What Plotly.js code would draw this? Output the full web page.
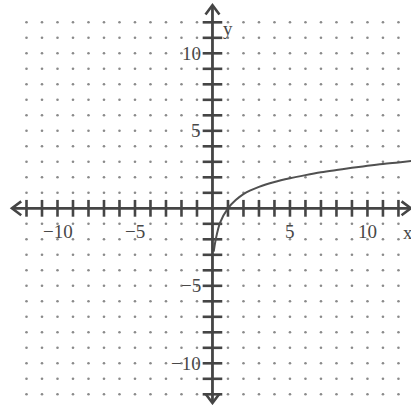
<!DOCTYPE html>
<html>
<head>
<meta charset="utf-8">
<script src="https://cdn.plot.ly/plotly-3.0.1.min.js"></script>
<style>html,body{margin:0;padding:0;background:#fff;}#chart{width:411px;height:405px;}</style>
</head>
<body>
<div id="chart"></div>
<script>
// Curve
const curveX = [0.08, 0.2, 0.5, 1, 1.5, 2, 3, 4, 5, 6, 7, 8, 9, 10, 11, 12, 12.85];
const curveY = [-2.8, -2.06, -0.9, 0, 0.53, 0.92, 1.38, 1.7, 1.94, 2.14, 2.32, 2.47, 2.61, 2.74, 2.86, 2.96, 3.05];
// Tick positions and labels
const tickVals = [-12,-11,-10,-9,-8,-7,-6,-5,-4,-3,-2,-1,1,2,3,4,5,6,7,8,9,10,11,12];
const xLabelVals = [-10, -5, 5, 10];
const xLabelText = ["\u221210", "\u22125", "5", "10"];
const yLabelVals = [10, 5, -5, -10];
const yLabelText = ["10", "5", "\u22125", "\u221210"];
const gridVals = [-12,-11,-10,-9,-8,-7,-6,-5,-4,-3,-2,-1,1,2,3,4,5,6,7,8,9,10,11,12];

const AX = '#454545';
const FONT = {family: 'Liberation Serif, serif', size: 19, color: '#484848'};

// dot grid
const gx = [], gy = [];
gridVals.forEach(a => gridVals.forEach(b => { gx.push(a); gy.push(b); }));

const traces = [
  {x: gx, y: gy, mode: 'markers', type: 'scatter', hoverinfo: 'skip',
   marker: {size: 2.6, color: '#8a8a8a'}},
  {x: tickVals, y: tickVals.map(() => 0), mode: 'markers', type: 'scatter', hoverinfo: 'skip',
   marker: {symbol: 'line-ns', size: 12, line: {width: 2.6, color: AX}}},
  {x: tickVals.map(() => 0), y: tickVals, mode: 'markers', type: 'scatter', hoverinfo: 'skip',
   marker: {symbol: 'line-ew', size: 14, line: {width: 2.6, color: AX}}},
  {x: curveX, y: curveY, mode: 'lines', type: 'scatter', line: {color: '#505050', width: 2, shape: 'spline', smoothing: 1}}
];

const xMin = -12.94, xMax = 12.8, yMin = -12.56, yMax = 13.1;
const shapes = [
  {type: 'line', x0: xMin, x1: xMax, y0: 0, y1: 0, line: {color: AX, width: 2.8}},
  {type: 'line', x0: 0, x1: 0, y0: yMin, y1: yMax, line: {color: AX, width: 2.8}},
  {type: 'path', path: `M ${xMin+0.6} 0.45 L ${xMin} 0 L ${xMin+0.6} -0.45`, line: {color: AX, width: 2.6}},
  {type: 'path', path: `M ${xMax-0.6} 0.45 L ${xMax} 0 L ${xMax-0.6} -0.45`, line: {color: AX, width: 2.6}},
  {type: 'path', path: `M -0.45 ${yMax-0.6} L 0 ${yMax} L 0.45 ${yMax-0.6}`, line: {color: AX, width: 2.6}},
  {type: 'path', path: `M -0.45 ${yMin+0.6} L 0 ${yMin} L 0.45 ${yMin+0.6}`, line: {color: AX, width: 2.6}}
];

const annotations = [];
xLabelVals.forEach((v, i) => annotations.push({x: v, y: -1.5, text: xLabelText[i], showarrow: false, font: FONT, xanchor: 'center', yanchor: 'middle'}));
yLabelVals.forEach((v, i) => annotations.push({x: -0.62, y: v, text: yLabelText[i], showarrow: false, font: FONT, xanchor: 'right', yanchor: 'middle'}));
annotations.push({x: 0.55, y: 11.6, text: 'y', showarrow: false, font: FONT, xanchor: 'left', yanchor: 'middle'});
annotations.push({x: 12.15, y: -1.55, text: 'x', showarrow: false, font: FONT, xanchor: 'left', yanchor: 'middle'});

const layout = {
  width: 411, height: 405,
  margin: {l: 0, r: 0, t: 0, b: 0},
  paper_bgcolor: '#ffffff', plot_bgcolor: '#ffffff',
  showlegend: false,
  xaxis: {range: [-13.71, 12.81], visible: false, fixedrange: true},
  yaxis: {range: [-12.69, 13.44], visible: false, fixedrange: true},
  shapes: shapes,
  annotations: annotations
};

Plotly.newPlot('chart', traces, layout, {staticPlot: true, displayModeBar: false});
</script>
</body>
</html>
